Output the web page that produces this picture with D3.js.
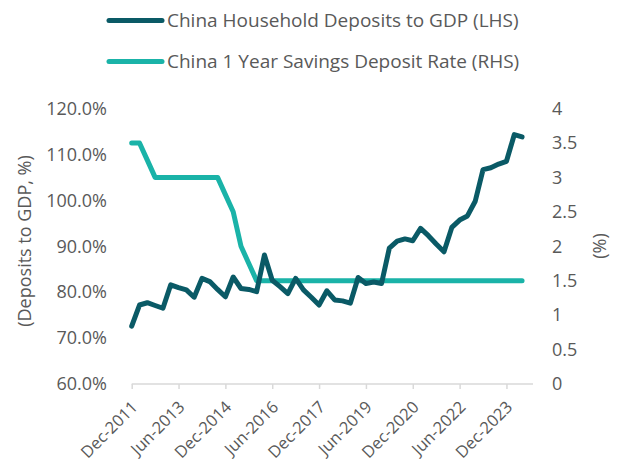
<!DOCTYPE html>
<html>
<head>
<meta charset="utf-8">
<script src="https://cdn.jsdelivr.net/npm/d3@7"></script>
<style>
  body { margin: 0; background: #fff; }
  text { font-family: "Open Sans", sans-serif; fill: #595959; }
</style>
</head>
<body>
<svg id="chart" width="618" height="472"></svg>
<script>
// quarterly, Dec-2011 .. Jun-2024
const quarters = [
  "Dec-2011","Mar-2012","Jun-2012","Sep-2012","Dec-2012","Mar-2013","Jun-2013","Sep-2013","Dec-2013",
  "Mar-2014","Jun-2014","Sep-2014","Dec-2014","Mar-2015","Jun-2015","Sep-2015","Dec-2015",
  "Mar-2016","Jun-2016","Sep-2016","Dec-2016","Mar-2017","Jun-2017","Sep-2017","Dec-2017",
  "Mar-2018","Jun-2018","Sep-2018","Dec-2018","Mar-2019","Jun-2019","Sep-2019","Dec-2019",
  "Mar-2020","Jun-2020","Sep-2020","Dec-2020","Mar-2021","Jun-2021","Sep-2021","Dec-2021",
  "Mar-2022","Jun-2022","Sep-2022","Dec-2022","Mar-2023","Jun-2023","Sep-2023","Dec-2023",
  "Mar-2024","Jun-2024"
];

const depositsToGdp = [
  72.6, 77.2, 77.7, 77.1, 76.5, 81.6, 81.0, 80.5, 78.9,
  83.0, 82.3, 80.6, 79.0, 83.3, 80.8, 80.6, 80.1,
  88.1, 82.6, 81.2, 79.7, 83.0, 80.5, 78.9, 77.2,
  80.3, 78.3, 78.1, 77.6, 83.2, 81.9, 82.2, 81.9,
  89.6, 91.1, 91.6, 91.2, 93.9, 92.3, 90.5, 88.8,
  94.1, 95.7, 96.6, 99.8, 106.7, 107.1, 107.9, 108.5,
  114.3, 113.8
];

const depositRate = [
  3.5, 3.5, 3.25, 3.0, 3.0, 3.0, 3.0, 3.0, 3.0,
  3.0, 3.0, 3.0, 2.75, 2.5, 2.0, 1.75, 1.5,
  1.5, 1.5, 1.5, 1.5, 1.5, 1.5, 1.5, 1.5,
  1.5, 1.5, 1.5, 1.5, 1.5, 1.5, 1.5, 1.5,
  1.5, 1.5, 1.5, 1.5, 1.5, 1.5, 1.5, 1.5,
  1.5, 1.5, 1.5, 1.5, 1.5, 1.5, 1.5, 1.5,
  1.5, 1.5
];

const leftTicks = [60, 70, 80, 90, 100, 110, 120];
const rightTicks = [0, 0.5, 1, 1.5, 2, 2.5, 3, 3.5, 4];
const xTickEvery = 6;

const dark = "#0a5a66", light = "#1ab3a8";

const svg = d3.select("#chart");

const x = d3.scaleLinear().domain([0, 51.4]).range([131.7, 533]);
const yL = d3.scaleLinear().domain([60, 120]).range([384, 108.5]);
const yR = d3.scaleLinear().domain([0, 4]).range([384, 108.5]);

// x axis
const xAxis = svg.append("g")
    .attr("transform", "translate(0,384)")
    .call(d3.axisBottom(x)
        .tickValues(d3.range(0, quarters.length, xTickEvery))
        .tickSize(5)
        .tickFormat(""));
xAxis.select(".domain").attr("stroke", "#d9d9d9").attr("stroke-width", 1.5)
    .attr("d", `M${x(0)},0H${x.range()[1]}`);
xAxis.selectAll(".tick line").attr("stroke", "#d9d9d9").attr("stroke-width", 1.5);

svg.append("g").selectAll("text")
    .data(d3.range(0, quarters.length, xTickEvery))
    .join("text")
    .attr("transform", i => `translate(${x(i) + 3},${404}) rotate(-45)`)
    .attr("text-anchor", "end")
    .attr("dy", "0.35em")
    .style("font-size", "16.5px")
    .text(i => quarters[i]);

// left axis
svg.append("g").selectAll("text")
    .data(leftTicks)
    .join("text")
    .attr("x", 107)
    .attr("y", d => yL(d))
    .attr("dy", "0.35em")
    .attr("text-anchor", "end")
    .style("font-size", "18px")
    .text(d => d.toFixed(1) + "%");

svg.append("text")
    .attr("transform", `translate(25,241) rotate(-90)`)
    .attr("text-anchor", "middle")
    .attr("dy", "0.35em")
    .style("font-size", "18px")
    .text("(Deposits to GDP, %)");

// right axis
svg.append("g").selectAll("text")
    .data(rightTicks)
    .join("text")
    .attr("x", 552)
    .attr("y", d => yR(d))
    .attr("dy", "0.35em")
    .style("font-size", "18px")
    .text(d => d);

svg.append("text")
    .attr("transform", `translate(600,246) rotate(-90)`)
    .attr("text-anchor", "middle")
    .attr("dy", "0.35em")
    .style("font-size", "18px")
    .text("(%)");

// lines
const lineL = d3.line().x((d, i) => x(i)).y(d => yL(d));
const lineR = d3.line().x((d, i) => x(i)).y(d => yR(d));

svg.append("path")
    .datum(depositRate)
    .attr("d", lineR)
    .attr("fill", "none")
    .attr("stroke", light)
    .attr("stroke-width", 5)
    .attr("stroke-linejoin", "round")
    .attr("stroke-linecap", "round");

svg.append("path")
    .datum(depositsToGdp)
    .attr("d", lineL)
    .attr("fill", "none")
    .attr("stroke", dark)
    .attr("stroke-width", 5)
    .attr("stroke-linejoin", "round")
    .attr("stroke-linecap", "round");

// legend
const legend = [
  {name: "China Household Deposits to GDP (LHS)", color: dark, y: 20.5},
  {name: "China 1 Year Savings Deposit Rate (RHS)", color: light, y: 61.5}
];
const lg = svg.append("g").selectAll("g").data(legend).join("g");
lg.append("line")
    .attr("x1", 109).attr("x2", 162)
    .attr("y1", d => d.y).attr("y2", d => d.y)
    .attr("stroke", d => d.color)
    .attr("stroke-width", 5)
    .attr("stroke-linecap", "round");
lg.append("text")
    .attr("x", 167)
    .attr("y", d => d.y)
    .attr("dy", "0.35em")
    .style("font-size", "19px")
    .text(d => d.name);
</script>
</body>
</html>
